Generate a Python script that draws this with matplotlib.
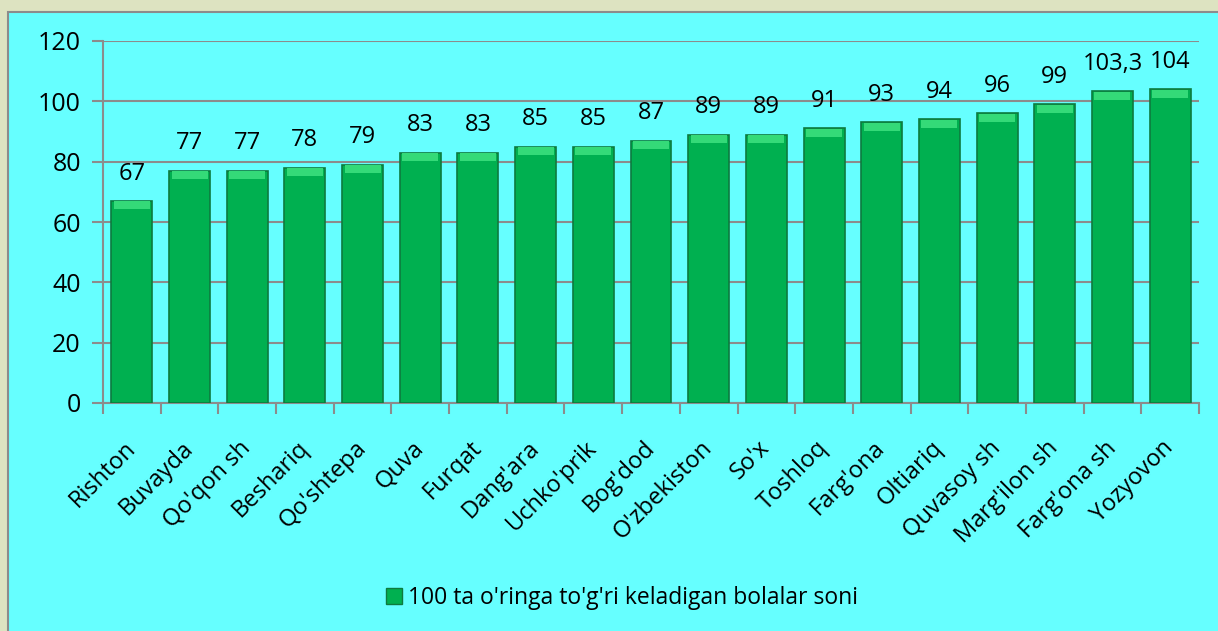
import matplotlib.pyplot as plt
import matplotlib.patches as mpatches
import numpy as np

categories = ["Rishton", "Buvayda", "Qo'qon sh", "Beshariq", "Qo'shtepa", "Quva", "Furqat",
              "Dang'ara", "Uchko'prik", "Bog'dod", "O'zbekiston", "So'x", "Toshloq",
              "Farg'ona", "Oltiariq", "Quvasoy sh", "Marg'ilon sh", "Farg'ona sh", "Yozyovon"]
values = [67, 77, 77, 78, 79, 83, 83, 85, 85, 87, 89, 89, 91, 93, 94, 96, 99, 103.3, 104]
value_labels = ["67", "77", "77", "78", "79", "83", "83", "85", "85", "87", "89", "89", "91",
                "93", "94", "96", "99", "103,3", "104"]
series_name = "100 ta o'ringa to'g'ri keladigan bolalar soni"

plt.rcParams['font.family'] = ['Open Sans', 'DejaVu Sans']

fig = plt.figure(figsize=(12.18, 6.31), dpi=100, facecolor='#DDE3C1')
# cyan panel
panel = mpatches.Rectangle((8 / 1218, -0.01), 1.0, 1 - 12 / 631 + 0.01, transform=fig.transFigure,
                           facecolor='#66FFFF', edgecolor='#8C8C8C', linewidth=1.5, zorder=-10)
fig.add_artist(panel)

ax = fig.add_axes([103 / 1218, 1 - 403 / 631, (1199 - 103) / 1218, (403 - 41) / 631])
ax.set_facecolor('none')

x = np.arange(len(categories))
bar_w = 0.71
ax.bar(x, values, width=bar_w, color='#00B050', edgecolor='#0E7A3E', linewidth=1.2, zorder=3)
# light bevel on top of each bar
ax.bar(x, [2.6] * len(values), bottom=np.array(values) - 2.8, width=bar_w * 0.88,
       color='#34DA78', linewidth=0, zorder=4)

for xi, v, lab in zip(x, values, value_labels):
    ax.annotate(lab, (xi, v), xytext=(0, 11), textcoords='offset points',
                ha='center', va='bottom', fontsize=17, color='black')

ax.set_xlim(-0.5, len(categories) - 0.5)
ax.set_ylim(0, 120)
ax.set_yticks(range(0, 121, 20))
ax.yaxis.grid(True, color='#8C8C8C', linewidth=1.5, zorder=0)
ax.tick_params(axis='y', length=8, width=1.5, color='#8C8C8C', labelsize=18, pad=8)

ax.set_xticks(x)
ax.set_xticklabels(categories, rotation=45, ha='right', va='center', rotation_mode='anchor',
                   fontsize=17)
ax.tick_params(axis='x', which='major', length=0, pad=30)
ax.set_xticks(np.arange(-0.5, len(categories)), minor=True)
ax.tick_params(axis='x', which='minor', length=8, width=1.5, color='#8C8C8C')

for s in ['top', 'right']:
    ax.spines[s].set_visible(False)
for s in ['left', 'bottom']:
    ax.spines[s].set_color('#8C8C8C')
    ax.spines[s].set_linewidth(1.5)

handle = mpatches.Patch(facecolor='#00B050', edgecolor='#0E7A3E', label=series_name)
fig.legend(handles=[handle], loc='center', bbox_to_anchor=(622 / 1218, 1 - 598 / 631),
           frameon=False, fontsize=16.5, handlelength=0.7, handleheight=0.7, handletextpad=0.3)

fig.savefig('out.png', dpi=100, facecolor=fig.get_facecolor())
